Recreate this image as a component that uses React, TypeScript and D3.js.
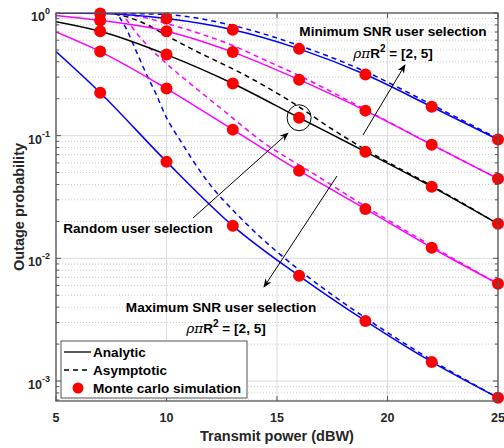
import React from 'react';
import * as d3 from 'd3';

// ---- data ----
const powerDb = [5, 7, 10, 13, 16, 19, 22, 25];
const mcPowerDb = [7, 10, 13, 16, 19, 22, 25];

// analytic (solid)
const minSnrBlue = [0.998, 0.99, 0.9, 0.73, 0.51, 0.315, 0.172, 0.093];
const minSnrMagenta = [0.955, 0.87, 0.71, 0.48, 0.286, 0.16, 0.0845, 0.0446];
const randomSel = [0.85, 0.71, 0.458, 0.266, 0.14, 0.074, 0.0384, 0.0191];
const maxSnrMagenta = [0.7, 0.485, 0.242, 0.112, 0.0518, 0.0253, 0.0122, 0.0062];
const maxSnrBlue = [0.485, 0.224, 0.0614, 0.0184, 0.0072, 0.00309, 0.00143, 0.00073];

// monte carlo (markers)
const mcMinBlue = [0.99, 0.9, 0.73, 0.51, 0.315, 0.172, 0.093];
const mcMinMagenta = [0.87, 0.71, 0.48, 0.286, 0.16, 0.0845, 0.0446];
const mcRandom = [0.71, 0.458, 0.266, 0.14, 0.074, 0.0384, 0.0191];
const mcMaxMagenta = [0.485, 0.242, 0.112, 0.0518, 0.0253, 0.0122, 0.0062];
const mcMaxBlue = [0.224, 0.0614, 0.0184, 0.0072, 0.00309, 0.00143, 0.00073];

// asymptotic (dashed)
const asymMinBlueX = [6.8, 7.4, 10, 13, 16, 19, 22, 25];
const asymMinBlue = [1.1, 1.0, 0.972, 0.791, 0.543, 0.333, 0.179, 0.0945];
const asymMinMagentaX = [7.0, 7.7, 8.8, 10, 11.5, 13, 14.5, 16, 19, 22, 25];
const asymMinMagenta = [1.15, 1.0, 0.936, 0.821, 0.68, 0.543, 0.41, 0.309, 0.163, 0.0845, 0.0446];
const asymRandomX = [7.0, 7.6, 8.3, 9.1, 10, 11.2, 13.5, 15.7, 17.4, 19, 22, 25];
const asymRandom = [1.2, 1.0, 0.919, 0.806, 0.655, 0.503, 0.315, 0.186, 0.116, 0.0769, 0.0391, 0.0191];
const asymMaxMagentaX = [7.6, 8.0, 8.35, 9.1, 10, 11.4, 12.7, 14.4, 15.6, 16.5, 19, 22, 25];
const asymMaxMagenta = [1.4, 1.0, 0.806, 0.553, 0.387, 0.238, 0.154, 0.0877, 0.0637, 0.0509, 0.0265, 0.0126, 0.0062];
const asymMaxBlueX = [7.5, 7.8, 8.2, 8.6, 9.1, 9.5, 10, 10.6, 11.8, 13.3, 14.7, 16, 19, 22, 25];
const asymMaxBlue = [1.5, 1.0, 0.733, 0.503, 0.315, 0.224, 0.14, 0.0927, 0.0437, 0.0218, 0.0126, 0.00805, 0.00327, 0.00148, 0.00073];

const xTicks = [5, 10, 15, 20, 25];
const yDecades = [-3, -2, -1, 0];

const W = 504;
const H = 448;
const left = 56, right = 498, top = 13, bottom = 401;
const FONT = "'Liberation Sans', Arial, Helvetica, sans-serif";

const BLUE = '#0000ff';
const MAGENTA = '#ff00ff';

export default function App() {
  const x = d3.scaleLinear().domain([5, 25]).range([left, right]);
  const y = d3.scaleLog().domain([Math.pow(10, -3.163), 1]).range([bottom, top]);

  const line = (xs: number[], ys: number[]) =>
    d3.line<number>()
      .x((_, i) => x(xs[i]))
      .y((d) => y(d))
      .curve(d3.curveMonotoneX)(ys) || '';

  const minor: number[] = [];
  for (let e = -4; e <= -1; e++) {
    for (let k = 2; k <= 9; k++) {
      const v = k * Math.pow(10, e);
      if (v >= y.domain()[0] && v <= 1) minor.push(v);
    }
  }

  const solid = [
    { ys: minSnrBlue, c: BLUE },
    { ys: minSnrMagenta, c: MAGENTA },
    { ys: randomSel, c: '#000' },
    { ys: maxSnrMagenta, c: MAGENTA },
    { ys: maxSnrBlue, c: BLUE },
  ];
  const dashed = [
    { xs: asymMinBlueX, ys: asymMinBlue, c: BLUE },
    { xs: asymMinMagentaX, ys: asymMinMagenta, c: MAGENTA },
    { xs: asymRandomX, ys: asymRandom, c: '#000' },
    { xs: asymMaxMagentaX, ys: asymMaxMagenta, c: MAGENTA },
    { xs: asymMaxBlueX, ys: asymMaxBlue, c: BLUE },
  ];
  const mc = [mcMinBlue, mcMinMagenta, mcRandom, mcMaxMagenta, mcMaxBlue];

  const axisColor = '#555';

  return (
    <svg width={W} height={H} style={{ position: 'absolute', left: 0, top: 0, background: '#fff' }}
      fontFamily={FONT} fontWeight="bold">
      <defs>
        <clipPath id="plot">
          <rect x={left} y={top} width={right - left} height={bottom - top} />
        </clipPath>
        <marker id="arr" viewBox="0 0 10 10" refX="9" refY="5" markerWidth="9" markerHeight="9" orient="auto-start-reverse" markerUnits="userSpaceOnUse">
          <path d="M0,1 L10,5 L0,9 L3,5 Z" fill="#000" />
        </marker>
      </defs>
      <rect x={left} y={top} width={right - left} height={bottom - top} fill="#fff" />

      {/* grid */}
      {minor.map((v, i) => (
        <line key={'mg' + i} x1={left} x2={right} y1={y(v)} y2={y(v)} stroke="#bdbdbd" strokeWidth={0.8} strokeDasharray="1,2" />
      ))}
      {yDecades.map((e) => (
        <line key={'g' + e} x1={left} x2={right} y1={y(Math.pow(10, e))} y2={y(Math.pow(10, e))} stroke="#dcdcdc" strokeWidth={1} />
      ))}
      {xTicks.map((t) => (
        <line key={'gx' + t} x1={x(t)} x2={x(t)} y1={top} y2={bottom} stroke="#dcdcdc" strokeWidth={1} />
      ))}

      {/* curves */}
      <g clipPath="url(#plot)" fill="none" strokeWidth={1.5}>
        {dashed.map((s, i) => (
          <path key={'d' + i} d={line(s.xs, s.ys)} stroke={s.c} strokeDasharray="5,4" />
        ))}
        {solid.map((s, i) => (
          <path key={'s' + i} d={line(powerDb, s.ys)} stroke={s.c} />
        ))}
      </g>
      {mc.map((ys, i) => (
        <g key={'m' + i}>
          {ys.map((v, j) => (
            <circle key={j} cx={x(mcPowerDb[j])} cy={y(v)} r={6} fill="#ff0000" />
          ))}
        </g>
      ))}

      {/* axes box and ticks */}
      <rect x={left} y={top} width={right - left} height={bottom - top} fill="none" stroke={axisColor} strokeWidth={1.3} />
      {xTicks.map((t) => (
        <g key={'xt' + t} stroke={axisColor} strokeWidth={1}>
          <line x1={x(t)} x2={x(t)} y1={bottom} y2={bottom - 5} />
          <line x1={x(t)} x2={x(t)} y1={top} y2={top + 5} />
        </g>
      ))}
      {yDecades.map((e) => (
        <g key={'yt' + e} stroke={axisColor} strokeWidth={1}>
          <line x1={left} x2={left + 5} y1={y(Math.pow(10, e))} y2={y(Math.pow(10, e))} />
          <line x1={right} x2={right - 5} y1={y(Math.pow(10, e))} y2={y(Math.pow(10, e))} />
        </g>
      ))}
      {minor.map((v, i) => (
        <g key={'ym' + i} stroke={axisColor} strokeWidth={1}>
          <line x1={left} x2={left + 3} y1={y(v)} y2={y(v)} />
          <line x1={right} x2={right - 3} y1={y(v)} y2={y(v)} />
        </g>
      ))}

      {/* tick labels */}
      {xTicks.map((t) => (
        <text key={'xl' + t} x={x(t)} y={bottom + 21} textAnchor="middle" fontSize={12.5} fill="#262626">{t}</text>
      ))}
      {yDecades.map((e) => (
        <text key={'yl' + e} x={left - 6} y={y(Math.pow(10, e)) + 8} textAnchor="end" fontSize={12.5} fill="#262626">
          10<tspan dy={-7} fontSize={9}>{e}</tspan>
        </text>
      ))}

      {/* axis titles */}
      <text x={(left + right) / 2} y={441} textAnchor="middle" fontSize={14.5} fill="#262626">Transmit power (dBW)</text>
      <text transform={`translate(24,${(top + bottom) / 2}) rotate(-90)`} textAnchor="middle" fontSize={14.5} fill="#262626">Outage probability</text>

      {/* annotations */}
      <text x={393} y={36} textAnchor="middle" fontSize={13.6}>Minimum SNR user selection</text>
      <text x={393} y={58} textAnchor="middle" fontSize={13.6}>
        <tspan fontFamily="'DejaVu Serif', serif" fontStyle="italic" fontWeight="normal">ρπ</tspan>R<tspan dy={-6} fontSize={10}>2</tspan><tspan dy={6}> = [2, 5]</tspan>
      </text>
      <line x1={363} y1={135} x2={405} y2={65} stroke="#000" strokeWidth={1} markerEnd="url(#arr)" />

      <text x={138} y={233} textAnchor="middle" fontSize={13.6}>Random user selection</text>
      <line x1={193} y1={218} x2={288} y2={133} stroke="#000" strokeWidth={1} markerEnd="url(#arr)" />
      <ellipse cx={x(16)} cy={y(randomSel[4])} rx={12} ry={13} fill="none" stroke="#000" strokeWidth={1} />

      <text x={221} y={312} textAnchor="middle" fontSize={13.6}>Maximum SNR user selection</text>
      <text x={226} y={333} textAnchor="middle" fontSize={13.6}>
        <tspan fontFamily="'DejaVu Serif', serif" fontStyle="italic" fontWeight="normal">ρπ</tspan>R<tspan dy={-6} fontSize={10}>2</tspan><tspan dy={6}> = [2, 5]</tspan>
      </text>
      <line x1={337} y1={176} x2={264} y2={287} stroke="#000" strokeWidth={1} markerEnd="url(#arr)" />

      {/* legend */}
      <rect x={61} y={341} width={186} height={57} fill="#fff" stroke={axisColor} strokeWidth={1} />
      <line x1={64} x2={91} y1={352} y2={352} stroke="#000" strokeWidth={1.3} />
      <text x={93} y={357} fontSize={13.6}>Analytic</text>
      <line x1={64} x2={91} y1={370} y2={370} stroke="#000" strokeWidth={1.3} strokeDasharray="5,4" />
      <text x={93} y={375} fontSize={13.6}>Asymptotic</text>
      <circle cx={78} cy={388} r={5.5} fill="#ff0000" />
      <text x={93} y={393} fontSize={13.6}>Monte carlo simulation</text>
    </svg>
  );
}
